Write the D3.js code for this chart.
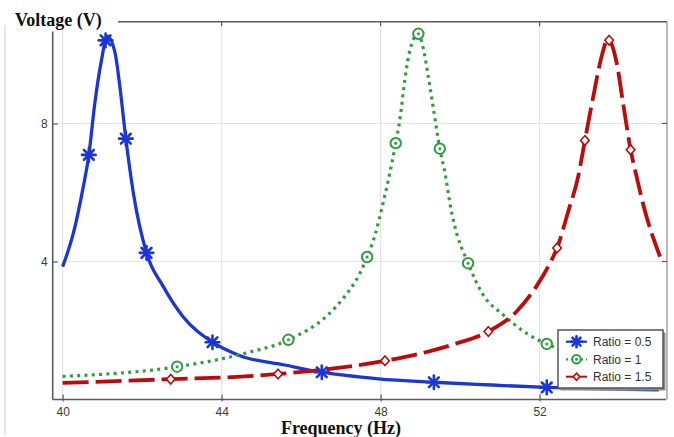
<!DOCTYPE html>
<html>
<head>
<meta charset="utf-8">
<script src="https://cdn.jsdelivr.net/npm/d3@7"></script>
<style>
  html, body { margin: 0; padding: 0; background: #fff; }
  svg { display: block; }
</style>
</head>
<body>
<svg id="chart" width="674" height="437"></svg>
<script>
// Frequency response curves (voltage vs. frequency) for three ratios.
const freqBlue = [40.0, 40.27, 40.52, 40.66, 40.81, 40.98, 41.12, 41.32, 41.44, 41.59, 41.78, 42.11, 42.53, 43.03, 43.77, 44.46, 45.59, 46.52, 47.94, 49.34, 50.8, 52.18, 55.0];
const voltBlue = [3.85, 4.82, 6.17, 7.09, 8.59, 9.85, 10.53, 10.04, 9.07, 7.56, 5.98, 4.25, 3.28, 2.4, 1.66, 1.27, 1.0, 0.79, 0.6, 0.5, 0.42, 0.35, 0.28];

const freqGreen = [40.0, 42.88, 44.59, 45.68, 46.68, 47.10, 47.48, 47.66, 47.86, 48.03, 48.38, 48.49, 48.61, 48.74, 48.95, 49.07, 49.2, 49.32, 49.49, 49.62, 49.76, 49.85, 50.2, 50.58, 51.08, 51.67, 52.18, 53.0, 55.0];
const voltGreen = [0.67, 0.95, 1.34, 1.73, 2.46, 2.99, 3.66, 4.13, 4.77, 5.54, 7.43, 8.16, 9.27, 10.14, 10.6, 10.19, 9.36, 8.49, 7.27, 6.56, 5.59, 5.1, 3.95, 3.03, 2.46, 1.92, 1.61, 1.3, 0.9];

const freqRed = [40.0, 42.72, 44.59, 45.42, 46.52, 48.11, 49.03, 49.84, 50.71, 51.42, 51.92, 52.26, 52.44, 52.72, 52.97, 53.14, 53.35, 53.56, 53.72, 53.94, 54.1, 54.29, 54.44, 54.61, 55.03];
const voltRed = [0.48, 0.59, 0.67, 0.74, 0.86, 1.12, 1.34, 1.6, 1.97, 2.55, 3.28, 3.95, 4.39, 5.45, 6.46, 7.51, 8.78, 9.94, 10.44, 9.75, 8.59, 7.24, 6.46, 5.64, 4.14];

// Marker positions along each curve
const markBlueF = [40.66, 41.08, 41.59, 42.11, 43.77, 46.52, 49.34, 52.18];
const markBlueV = [7.09, 10.41, 7.56, 4.25, 1.66, 0.79, 0.50, 0.35];
const markGreenF = [42.88, 45.68, 47.66, 48.38, 48.95, 49.49, 50.2, 52.18];
const markGreenV = [0.95, 1.73, 4.13, 7.43, 10.6, 7.27, 3.95, 1.61];
const markRedF = [42.72, 45.42, 48.11, 50.71, 52.44, 53.14, 53.75, 54.29];
const markRedV = [0.59, 0.74, 1.12, 1.97, 4.39, 7.51, 10.41, 7.24];

const seriesNames = ["Ratio = 0.5", "Ratio = 1", "Ratio = 1.5"];
const xTicks = [40, 44, 48, 52];
const yTicks = [4, 8];

const svg = d3.select("#chart");
const pLeft = 52.7, pRight = 666, pTop = 21.7, pBottom = 399.5;

const x = d3.scaleLinear().domain([39.75, 55.18]).range([pLeft, pRight]);
const y = d3.scaleLinear().domain([0, 10.95]).range([pBottom, pTop]);

// faint page edge line
svg.append("line").attr("x1", 5).attr("x2", 5).attr("y1", 25).attr("y2", 435)
  .attr("stroke", "#d6d6d6").attr("stroke-width", 1.2);

// grid
const grid = svg.append("g");
grid.selectAll(".gx").data(xTicks).join("line")
  .attr("x1", d => x(d)).attr("x2", d => x(d))
  .attr("y1", pTop).attr("y2", pBottom)
  .attr("stroke", "#e4e4e4").attr("stroke-width", 1.2);
grid.selectAll(".gy").data(yTicks).join("line")
  .attr("x1", pLeft).attr("x2", pRight)
  .attr("y1", d => y(d)).attr("y2", d => y(d))
  .attr("stroke", "#e4e4e4").attr("stroke-width", 1.2);

// frame
const frameColor = "#5a5a5a";
svg.append("line").attr("x1", pLeft).attr("x2", pLeft).attr("y1", 31.5).attr("y2", pBottom)
  .attr("stroke", frameColor).attr("stroke-width", 1.6);
svg.append("line").attr("x1", pLeft).attr("x2", pRight).attr("y1", pBottom).attr("y2", pBottom)
  .attr("stroke", frameColor).attr("stroke-width", 1.6);
svg.append("line").attr("x1", 118).attr("x2", pRight + 1).attr("y1", pTop).attr("y2", pTop)
  .attr("stroke", frameColor).attr("stroke-width", 1.6);
svg.append("line").attr("x1", pRight + 1).attr("x2", pRight + 1).attr("y1", pTop).attr("y2", pBottom)
  .attr("stroke", "#8a8a8a").attr("stroke-width", 1.2);

// axes with inward ticks
const xAxis = d3.axisBottom(x).tickValues(xTicks).tickSize(0).tickPadding(7.5).tickFormat(d3.format("d"));
const gx = svg.append("g").attr("transform", `translate(0,${pBottom})`).call(xAxis);
gx.select(".domain").remove();
gx.selectAll("text").attr("font-family", "Liberation Sans, Arial, sans-serif").attr("font-size", 12).attr("fill", "#3a3a3a");
gx.selectAll(".tick").append("line").attr("y1", -5).attr("y2", 2).attr("stroke", frameColor).attr("stroke-width", 1.2);

const yAxis = d3.axisLeft(y).tickValues(yTicks).tickSize(0).tickPadding(5).tickFormat(d3.format("d"));
const gy = svg.append("g").attr("transform", `translate(${pLeft},0)`).call(yAxis);
gy.select(".domain").remove();
gy.selectAll("text").attr("font-family", "Liberation Sans, Arial, sans-serif").attr("font-size", 12).attr("fill", "#3a3a3a");
gy.selectAll(".tick").append("line").attr("x1", 0).attr("x2", 5).attr("stroke", frameColor).attr("stroke-width", 1.2);

// top & right inner ticks
svg.append("g").selectAll("line").data(xTicks.filter(d => x(d) > 118)).join("line")
  .attr("x1", d => x(d)).attr("x2", d => x(d)).attr("y1", pTop).attr("y2", pTop + 4.5)
  .attr("stroke", frameColor).attr("stroke-width", 1.2);
svg.append("g").selectAll("line").data(yTicks).join("line")
  .attr("x1", pRight + 1).attr("x2", pRight - 4).attr("y1", d => y(d)).attr("y2", d => y(d))
  .attr("stroke", frameColor).attr("stroke-width", 1.2);

// clip curves to plot area
svg.append("clipPath").attr("id", "plotclip").append("rect")
  .attr("x", pLeft).attr("y", pTop - 4).attr("width", pRight - pLeft).attr("height", pBottom - pTop + 4);

const line = d3.line().x(d => x(d[0])).y(d => y(d[1])).curve(d3.curveMonotoneX);
const zip = (a, b) => a.map((v, i) => [v, b[i]]);

const blue = "#1a36d8", green = "#2f9e3e", red = "#c00a0a";

const plot = svg.append("g").attr("clip-path", "url(#plotclip)");
plot.append("path").datum(zip(freqBlue, voltBlue)).attr("d", line)
  .attr("fill", "none").attr("stroke", blue).attr("stroke-width", 3.3).attr("stroke-linejoin", "round");
plot.append("path").datum(zip(freqGreen, voltGreen)).attr("d", line)
  .attr("fill", "none").attr("stroke", green).attr("stroke-width", 3.2).attr("stroke-dasharray", "3,4.3");
plot.append("path").datum(zip(freqRed, voltRed)).attr("d", line)
  .attr("fill", "none").attr("stroke", red).attr("stroke-width", 3.8).attr("stroke-dasharray", "26,7");

// marker drawers
function asterisk(g, cx, cy, r, color) {
  const k = r * 0.72;
  const segs = [[-r, 0, r, 0], [0, -r, 0, r], [-k, -k, k, k], [-k, k, k, -k]];
  segs.forEach(s => g.append("line")
    .attr("x1", cx + s[0]).attr("y1", cy + s[1]).attr("x2", cx + s[2]).attr("y2", cy + s[3])
    .attr("stroke", color).attr("stroke-width", 2.6).attr("stroke-linecap", "round"));
}
function ring(g, cx, cy, r, color) {
  g.append("circle").attr("cx", cx).attr("cy", cy).attr("r", r)
    .attr("fill", "#fff").attr("stroke", color).attr("stroke-width", 2);
  g.append("circle").attr("cx", cx).attr("cy", cy).attr("r", 1.5).attr("fill", color);
}
function diamond(g, cx, cy, r, color) {
  g.append("path")
    .attr("d", `M${cx},${cy - r}L${cx + r * 0.9},${cy}L${cx},${cy + r}L${cx - r * 0.9},${cy}Z`)
    .attr("fill", "#fff").attr("stroke", color).attr("stroke-width", 1.6);
}

const marks = svg.append("g");
markBlueF.forEach((f, i) => asterisk(marks, x(f), y(markBlueV[i]), 6.8, blue));
markGreenF.forEach((f, i) => ring(marks, x(f), y(markGreenV[i]), 5.2, green));
markRedF.forEach((f, i) => diamond(marks, x(f), y(markRedV[i]), 4.8, red));

// legend
const lg = svg.append("g");
const lx = 558, ly = 330, lw = 105, lh = 58;
lg.append("rect").attr("x", lx + 2.5).attr("y", ly + 2.5).attr("width", lw).attr("height", lh).attr("fill", "#8c8c8c");
lg.append("rect").attr("x", lx).attr("y", ly).attr("width", lw).attr("height", lh)
  .attr("fill", "#fff").attr("stroke", "#555").attr("stroke-width", 1.5);
const rowY = [341.7, 359.3, 376.7];
const styles = [
  { color: blue, dash: null, w: 2.2, mk: asterisk, r: 5.5 },
  { color: green, dash: "2,3", w: 2.2, mk: ring, r: 4.2 },
  { color: red, dash: null, w: 2, mk: diamond, r: 3.6 }
];
seriesNames.forEach((name, i) => {
  const s = styles[i];
  const ln = lg.append("line").attr("x1", 566).attr("x2", 587).attr("y1", rowY[i]).attr("y2", rowY[i])
    .attr("stroke", s.color).attr("stroke-width", s.w);
  if (s.dash) ln.attr("stroke-dasharray", s.dash);
  s.mk(lg, 576.5, rowY[i], s.r, s.color);
  lg.append("text").attr("x", 593).attr("y", rowY[i] + 4.2)
    .attr("font-family", "Liberation Sans, Arial, sans-serif").attr("font-size", 12)
    .attr("fill", "#333").text(name);
});

// axis titles
svg.append("text").attr("x", 15).attr("y", 26)
  .attr("font-family", "Liberation Serif, Times New Roman, serif").attr("font-weight", "bold")
  .attr("font-size", 18).attr("fill", "#111").text("Voltage (V)");
svg.append("text").attr("x", 341).attr("y", 434).attr("text-anchor", "middle")
  .attr("font-family", "Liberation Serif, Times New Roman, serif").attr("font-weight", "bold")
  .attr("font-size", 18).attr("fill", "#111").text("Frequency (Hz)");
</script>
</body>
</html>
